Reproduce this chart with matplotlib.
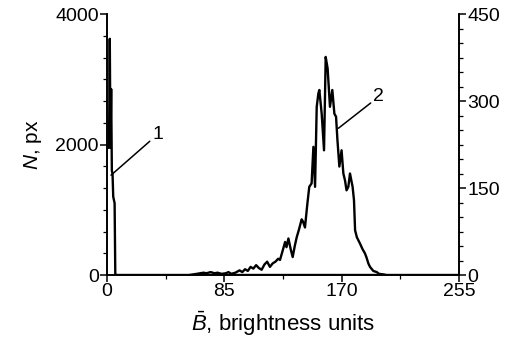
import numpy as np
import matplotlib
matplotlib.use("Agg")
import matplotlib.pyplot as plt
from matplotlib.ticker import MultipleLocator

plt.rcParams['font.family'] = ['Liberation Sans', 'DejaVu Sans']
plt.rcParams['mathtext.fontset'] = 'custom'
plt.rcParams['mathtext.rm'] = 'Liberation Sans'
plt.rcParams['mathtext.it'] = 'Liberation Sans:italic'

# curve 1 (left axis, N px)
b1 = [1, 1.5, 2, 2.5, 3, 3.5, 4, 4.5, 5, 5.5, 6, 6.5, 255]
n1 = [1950, 2100, 3620, 1950, 2850, 1600, 1550, 1200, 1150, 1100, 0, 0, 0]

# curve 2 (right axis)
b2 = [60, 65, 70, 72, 75, 78, 80, 83, 86, 88, 90, 93, 96, 98, 100, 102, 104,
      106, 108, 110, 112, 114, 116, 118, 120, 122, 124, 125.3, 127, 129, 130,
      131.4, 133, 134.5, 136, 137.4, 139, 141, 142, 143.4, 145, 146.5, 148.2,
      149.5, 150.7, 151.9, 153.1, 153.8, 155.5, 157.2, 158.4, 159.8, 161.5,
      163.2, 164.7, 165.9, 166.9, 168.3, 169.9, 171.2, 172.4, 173.5, 174.8,
      176, 177.9, 178.9, 179.7, 181, 183.3, 185, 186.9, 188, 189.3, 190.5,
      192.9, 195.4, 197, 200.2, 202]
n2 = [0, 2, 4, 3, 5, 3, 4, 2, 3, 5, 2, 4, 8, 5, 10, 7, 14,
      11, 17, 12, 9, 18, 23, 14, 20, 23, 28, 26, 40, 57, 48,
      63, 45, 31, 50, 65, 78, 96, 92, 82, 120, 152, 158,
      221, 152, 290, 313, 319, 278, 215, 376, 356, 290,
      319, 278, 273, 233, 187, 215, 175, 163, 146, 152,
      175, 152, 129, 77, 65, 54, 45, 37, 30, 20, 14,
      7, 5, 2, 1, 0]

fig = plt.figure(figsize=(5.06, 3.46), dpi=100)
ax = fig.add_axes([0.2115, 0.2052, 0.6957, 0.7543])
ax2 = ax.twinx()

ax.plot(b1, n1, color='black', lw=1.7)
ax2.plot(b2, n2, color='black', lw=1.7)

ax.set_xlim(0, 255)
ax.set_ylim(0, 4000)
ax2.set_ylim(0, 450)

ax.set_xticks([0, 85, 170, 255])
ax.xaxis.set_minor_locator(MultipleLocator(42.5))
ax.set_yticks([0, 2000, 4000])
ax.yaxis.set_minor_locator(MultipleLocator(4000 / 12))
ax2.set_yticks([0, 150, 300, 450])
ax2.yaxis.set_minor_locator(MultipleLocator(25))

for a in (ax, ax2):
    a.spines['top'].set_visible(False)
    for s in a.spines.values():
        s.set_linewidth(1.2)
    a.tick_params(which='major', length=5, width=1.1, labelsize=14, pad=1)
    a.tick_params(which='minor', length=3, width=0.9)

ax.set_ylabel('$N$, px', fontsize=15, labelpad=8)
ax.set_xlabel(r'$\bar{B}$, brightness units', fontsize=16, labelpad=7)

ax.annotate('1', xy=(2.9, 1530), xytext=(33, 2030), fontsize=14,
            ha='left', va='bottom',
            arrowprops=dict(arrowstyle='-', color='black', lw=1.1, shrinkA=0, shrinkB=0))
ax2.annotate('2', xy=(167.6, 253), xytext=(193, 293), fontsize=14,
             ha='left', va='bottom',
             arrowprops=dict(arrowstyle='-', color='black', lw=1.1, shrinkA=0, shrinkB=0))

fig.savefig('out.png', dpi=100)
